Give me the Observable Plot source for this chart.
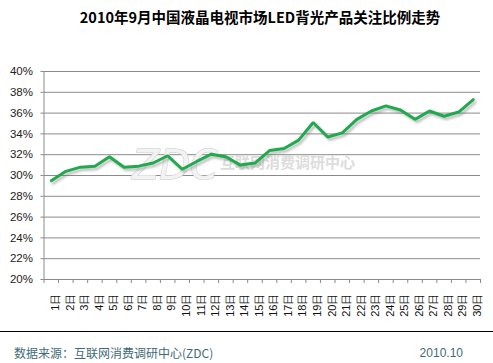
<!DOCTYPE html>
<html>
<head>
<meta charset="utf-8">
<script src="https://cdn.jsdelivr.net/npm/d3@7"></script>
<script src="https://cdn.jsdelivr.net/npm/@observablehq/plot@0.6"></script>
<style>
  html, body { margin: 0; padding: 0; background: #fff; }
  #wrap { width: 493px; height: 363px; position: relative; overflow: hidden; font-family: "Liberation Sans", Arial, sans-serif; }
  #title { position: absolute; left: 0; top: 8px; width: 520px; text-align: center; font-family: "Noto Sans CJK SC", sans-serif; font-weight: bold; font-size: 14.5px; line-height: 18px; color: #000; }
  #chart { position: absolute; left: 0; top: 30px; }
  #rule { position: absolute; left: 0; top: 331px; width: 493px; height: 0; border-top: 1px solid #000; }
  #source { position: absolute; left: 14px; top: 345px; font-family: "Noto Sans CJK SC", sans-serif; font-size: 12px; line-height: 16px; color: #3f6b78; }
  #date { position: absolute; right: 30px; top: 345px; font-size: 12px; line-height: 16px; color: #3f6b78; }
</style>
</head>
<body>
<div id="wrap">
  <div id="title">2010年9月中国液晶电视市场LED背光产品关注比例走势</div>
  <div id="chart"></div>
  <div id="rule"></div>
  <div id="source">数据来源：互联网消费调研中心(ZDC)</div>
  <div id="date">2010.10</div>
</div>
<script>
const days = [1,2,3,4,5,6,7,8,9,10,11,12,13,14,15,16,17,18,19,20,21,22,23,24,25,26,27,28,29,30];
const dayLabels = ["1日","2日","3日","4日","5日","6日","7日","8日","9日","10日","11日","12日","13日","14日","15日","16日","17日","18日","19日","20日","21日","22日","23日","24日","25日","26日","27日","28日","29日","30日"];
const shares = [29.5,30.4,30.8,30.9,31.8,30.8,30.9,31.2,31.9,30.6,31.35,32.05,31.8,31.0,31.2,32.4,32.6,33.4,35.1,33.7,34.1,35.4,36.2,36.7,36.3,35.4,36.2,35.7,36.1,37.3];
const yTicks = [20,22,24,26,28,30,32,34,36,38,40];
const boundaries = [0.5,1.5,2.5,3.5,4.5,5.5,6.5,7.5,8.5,9.5,10.5,11.5,12.5,13.5,14.5,15.5,16.5,17.5,18.5,19.5,20.5,21.5,22.5,23.5,24.5,25.5,26.5,27.5,28.5,29.5,30.5];
const watermark = [{x: 9.5, y: 30.85, t: "ZDC"}];
const watermark2 = [{x: 12.6, y: 31.15, t: "互联网消费调研中心"}];

const data = days.map((d, i) => ({day: d, value: shares[i]}));

const chart = Plot.plot({
  width: 493,
  height: 300,
  marginTop: 41,
  marginBottom: 51,
  marginLeft: 43.5,
  marginRight: 13,
  style: {fontFamily: "'Liberation Sans', Arial, sans-serif", background: "transparent", overflow: "visible"},
  x: {type: "linear", domain: [0.5, 30.5]},
  y: {domain: [20, 40]},
  marks: [
    Plot.gridY(yTicks, {stroke: "#8a8a8a", strokeOpacity: 1, strokeWidth: 1}),
    Plot.ruleX([0.5], {stroke: "#8a8a8a"}),
    Plot.ruleY([20], {stroke: "#8a8a8a"}),
    Plot.axisY(yTicks, {tickFormat: d => d + "%", tickSize: 3, tickPadding: 8, fontSize: 11.5, stroke: "#8a8a8a", fill: "#222", label: null}),
    Plot.axisX(boundaries, {tickSize: 4, tickFormat: () => "", stroke: "#8a8a8a", label: null}),
    Plot.axisX(days, {tickSize: 0, tickPadding: 14, rotate: -90, textAnchor: "end", fontSize: 11, fill: "#111", tickFormat: (d, i) => dayLabels[i], label: null}),
    Plot.text(watermark, {x: "x", y: "y", text: "t", fontSize: 40, fontStyle: "italic", fill: "#f3f3f3", stroke: "#c9c9c9", strokeWidth: 1, fontFamily: "DejaVu Sans"}),
    Plot.text(watermark2, {x: "x", y: "y", text: "t", fontSize: 15, textAnchor: "start", fill: "#dcdcdc", fontWeight: "bold", fontFamily: "Noto Sans CJK SC"}),
    Plot.line(data, {x: "day", y: "value", stroke: "#777", strokeWidth: 3, strokeOpacity: 0.45, dx: 2, dy: 2.5, imageFilter: "blur(1px)"}),
    Plot.line(data, {x: "day", y: "value", stroke: "#1faa4d", strokeWidth: 3, strokeLinejoin: "miter"})
  ]
});
document.getElementById("chart").appendChild(chart);
</script>
</body>
</html>
